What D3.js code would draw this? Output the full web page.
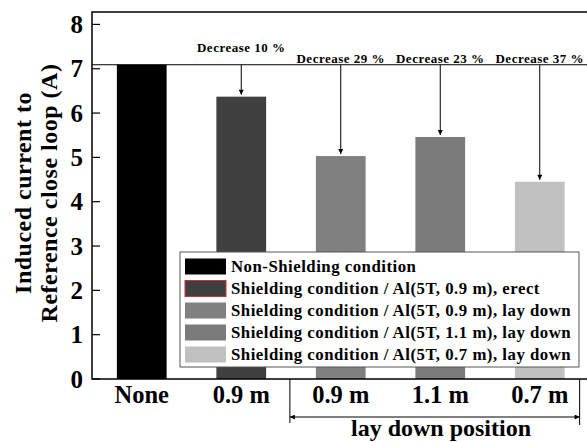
<!DOCTYPE html>
<html>
<head>
<meta charset="utf-8">
<script src="https://cdn.jsdelivr.net/npm/d3@7"></script>
</head>
<body style="margin:0; background:#fff">
<svg id="chart" width="587" height="442"></svg>
<script>
// data
var categories = ['None', '0.9 m erect', '0.9 m lay', '1.1 m lay', '0.7 m lay'];
var tickLabels = ['None', '0.9 m', '0.9 m', '1.1 m', '0.7 m'];
var currents = [7.09, 6.37, 5.03, 5.46, 4.45];
var decreaseLabels = [null, 'Decrease 10 %', 'Decrease 29 %', 'Decrease 23 %', 'Decrease 37 %'];
var barColors = ['#000000', '#404040', '#808080', '#7b7b7b', '#c0c0c0'];
var legendLabels = [
    'Non-Shielding condition',
    'Shielding condition / Al(5T, 0.9 m), erect',
    'Shielding condition / Al(5T, 0.9 m), lay down',
    'Shielding condition / Al(5T, 1.1 m), lay down',
    'Shielding condition / Al(5T, 0.7 m), lay down'
];
var yTicks = [0, 1, 2, 3, 4, 5, 6, 7, 8];

var margin = { top: 12, left: 92, bottom: 63 };
var W = 587, H = 442;
var plotRight = 589.5;
var FONT = '"Liberation Serif", "Times New Roman", Tinos, serif';

var svg = d3.select('#chart')
    .style('font-family', FONT)
    .style('font-weight', 'bold');

var x = d3.scaleBand()
    .domain(categories)
    .range([margin.left, plotRight])
    .paddingInner(0.5)
    .paddingOuter(0.25);

var y = d3.scaleLinear()
    .domain([0, 8.28])
    .range([H - margin.bottom, margin.top]);

// arrow marker
svg.append('defs').append('marker')
    .attr('id', 'head')
    .attr('viewBox', '0 0 10 10')
    .attr('refX', 10).attr('refY', 5)
    .attr('markerWidth', 8).attr('markerHeight', 5)
    .attr('markerUnits', 'userSpaceOnUse')
    .attr('orient', 'auto')
  .append('path')
    .attr('d', 'M0,0L10,5L0,10Z')
    .attr('fill', '#000');

// bars
svg.selectAll('rect.bar')
    .data(currents)
    .enter().append('rect')
    .attr('class', 'bar')
    .attr('x', function (d, i) { return x(categories[i]); })
    .attr('width', x.bandwidth())
    .attr('y', function (d) { return y(d); })
    .attr('height', function (d) { return y(0) - y(d); })
    .attr('fill', function (d, i) { return barColors[i]; });

// reference line at the non-shielding level
svg.append('line')
    .attr('x1', margin.left).attr('x2', W)
    .attr('y1', y(currents[0])).attr('y2', y(currents[0]))
    .attr('stroke', '#000').attr('stroke-width', 1);

// arrows to each shielded bar
var shielded = currents.map(function (d, i) { return { v: d, i: i }; }).filter(function (d) { return d.i > 0; });

svg.selectAll('line.arrow')
    .data(shielded)
    .enter().append('line')
    .attr('class', 'arrow')
    .attr('x1', function (d) { return x(categories[d.i]) + x.bandwidth() / 2; })
    .attr('x2', function (d) { return x(categories[d.i]) + x.bandwidth() / 2; })
    .attr('y1', y(currents[0]))
    .attr('y2', function (d) { return y(d.v) - 2; })
    .attr('stroke', '#000').attr('stroke-width', 1)
    .attr('marker-end', 'url(#head)');

svg.selectAll('text.dec')
    .data(shielded)
    .enter().append('text')
    .attr('class', 'dec')
    .attr('x', function (d) { return x(categories[d.i]) + x.bandwidth() / 2; })
    .attr('y', function (d) { return d.i === 1 ? y(currents[0]) - 13 : y(currents[0]) - 2; })
    .attr('text-anchor', 'middle')
    .style('font-size', '13px')
    .style('letter-spacing', '0.5px')
    .text(function (d) { return decreaseLabels[d.i]; });

// frame: left axis, bottom axis, top line
svg.append('path')
    .attr('d', 'M' + W + ',' + margin.top + 'H' + margin.left + 'V' + y(0) + 'H' + W)
    .attr('fill', 'none').attr('stroke', '#000').attr('stroke-width', 1.5);

// y ticks (inward) and labels
var yAxis = svg.append('g');
yAxis.selectAll('line')
    .data(yTicks)
    .enter().append('line')
    .attr('x1', margin.left).attr('x2', margin.left + 8)
    .attr('y1', function (d) { return y(d); })
    .attr('y2', function (d) { return y(d); })
    .attr('stroke', '#000').attr('stroke-width', 1.2);
yAxis.selectAll('text')
    .data(yTicks)
    .enter().append('text')
    .attr('x', 83)
    .attr('y', function (d) { return y(d); })
    .attr('dy', '0.35em')
    .attr('text-anchor', 'end')
    .style('font-size', '25px')
    .text(function (d) { return d; });

// y title
var yTitle = svg.append('text')
    .attr('transform', 'translate(0,193) rotate(-90)')
    .attr('text-anchor', 'middle')
    .style('font-size', '24px')
    .style('letter-spacing', '0.5px');
yTitle.append('tspan').attr('x', 0).attr('y', 31).text('Induced current to');
yTitle.append('tspan').attr('x', 0).attr('y', 57).text('Reference close loop (A)');

// x tick labels
svg.selectAll('text.xlab')
    .data(categories)
    .enter().append('text')
    .attr('class', 'xlab')
    .attr('x', function (d) { return x(d) + x.bandwidth() / 2; })
    .attr('y', y(0) + 24)
    .attr('text-anchor', 'middle')
    .style('font-size', '24.5px')
    .text(function (d, i) { return tickLabels[i]; });

// "lay down position" bracket
var bx0 = x(categories[2]) - 26;
var bx1 = x(categories[4]) + x.bandwidth() + 15;
var by = y(0) + 38;
svg.append('line')
    .attr('x1', bx0).attr('x2', bx0).attr('y1', y(0)).attr('y2', by + 6)
    .attr('stroke', '#000').attr('stroke-width', 1);
svg.append('line')
    .attr('x1', bx1).attr('x2', bx1).attr('y1', y(0)).attr('y2', by + 8)
    .attr('stroke', '#000').attr('stroke-width', 1);
svg.append('line')
    .attr('x1', (bx0 + bx1) / 2).attr('x2', bx0).attr('y1', by).attr('y2', by)
    .attr('stroke', '#000').attr('stroke-width', 1)
    .attr('marker-end', 'url(#head)');
svg.append('line')
    .attr('x1', (bx0 + bx1) / 2).attr('x2', bx1).attr('y1', by).attr('y2', by)
    .attr('stroke', '#000').attr('stroke-width', 1)
    .attr('marker-end', 'url(#head)');
svg.append('text')
    .attr('x', 441).attr('y', by + 19)
    .attr('text-anchor', 'middle')
    .style('font-size', '24px')
    .text('lay down position');

// legend
var lg = svg.append('g').attr('transform', 'translate(180,252)');
lg.append('rect')
    .attr('width', 399).attr('height', 115)
    .attr('fill', '#fff').attr('stroke', '#555').attr('stroke-width', 1);
var rows = lg.selectAll('g.row')
    .data(legendLabels)
    .enter().append('g')
    .attr('class', 'row')
    .attr('transform', function (d, i) { return 'translate(5,' + (14.5 + i * 22) + ')'; });
rows.append('rect')
    .attr('y', -8).attr('width', 41).attr('height', 16)
    .attr('fill', function (d, i) { return barColors[i]; })
    .attr('stroke', function (d, i) { return i === 1 ? '#d03030' : 'none'; })
    .attr('stroke-width', 1);
rows.append('text')
    .attr('x', 46)
    .attr('dy', '0.35em')
    .style('font-size', '16.8px')
    .style('letter-spacing', '0.5px')
    .text(function (d) { return d; });
</script>
</body>
</html>
